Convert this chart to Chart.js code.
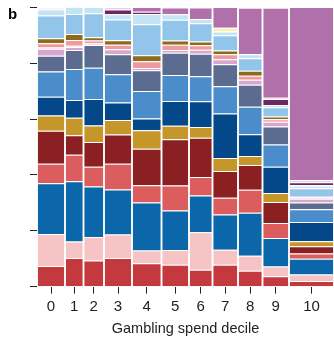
<!DOCTYPE html>
<html>
<head>
<meta charset="utf-8">
<script src="https://cdn.jsdelivr.net/npm/chart.js@4/dist/chart.umd.min.js"></script>
<style>
  html, body { margin: 0; padding: 0; background: #fff; }
  #wrap { position: relative; width: 334px; height: 338px; }
  #panel {
    position: absolute; left: 8px; top: 6px;
    font: bold 15px/1 "Liberation Sans", Arial, sans-serif; color: #000;
  }
</style>
</head>
<body>
<div id="wrap">
  <canvas id="chart" width="334" height="338"></canvas>
  <div id="panel">b</div>
</div>
<script>
// deciles and their relative bar widths (marimekko)
var deciles = ['0', '1', '2', '3', '4', '5', '6', '7', '8', '9', '10'];
var decileWidths = [28, 18.5, 20.5, 28, 29.5, 27.5, 23.5, 25.5, 24.5, 26.5, 45];

// spend shares per category, bottom to top (%)
var red          = [7.4, 10.3, 9.4, 10.3, 8.4, 7.9, 6.1, 7.9, 5.7, 3.7, 2.0];
var lightPink    = [11.5, 5.9, 8.4, 8.4, 4.6, 5.2, 13.4, 5.3, 5.4, 3.5, 2.4];
var blue         = [18.1, 21.5, 18.1, 16.1, 17.1, 14.2, 13.1, 12.6, 15.4, 10.2, 5.6];
var salmon       = [7.0, 9.5, 7.0, 9.2, 6.2, 8.9, 6.7, 6.0, 8.2, 5.4, 1.9];
var darkRed      = [11.8, 7.0, 8.9, 10.5, 13.1, 16.6, 14.0, 9.6, 8.9, 7.5, 2.6];
var gold         = [5.5, 6.3, 5.9, 5.2, 6.6, 4.8, 3.9, 4.7, 3.2, 3.2, 1.8];
var navy         = [6.7, 6.3, 9.5, 6.2, 4.2, 8.9, 9.2, 15.9, 7.8, 9.4, 6.9];
var medBlue      = [9.0, 11.1, 11.2, 10.1, 9.8, 9.3, 8.9, 9.7, 9.8, 8.0, 4.5];
var slate        = [5.7, 6.8, 8.1, 7.2, 7.5, 7.9, 8.1, 7.9, 7.9, 6.4, 2.4];
var lilac        = [2.5, 1.1, 0.3, 1.8, 0.8, 1.0, 1.4, 1.8, 1.8, 1.7, 1.4];
var palePink     = [0.4, 0.4, 0.3, 0, 0, 0, 0, 0, 0, 0, 0.5];
var salmonPink   = [1.5, 2.1, 1.0, 1.6, 2.4, 1.9, 1.6, 1.8, 1.4, 0.9, 0];
var brown        = [1.8, 2.1, 1.2, 1.6, 2.1, 1.5, 1.4, 1.3, 1.8, 1.0, 0.2];
var lightBlue    = [8.2, 7.2, 8.6, 7.4, 11.1, 7.4, 6.5, 5.5, 4.5, 3.3, 3.0];
var lightCyan    = [2.1, 2.6, 2.2, 1.9, 3.7, 2.0, 1.5, 1.3, 1.4, 0.8, 0.9];
var paleYellow   = [0, 0, 0, 0, 0, 0, 0, 1.4, 0, 0, 0.3];
var darkPurple   = [0, 0, 0, 1.7, 0.8, 0, 0, 0, 0, 2.2, 1.0];
var paleLavender = [0.6, 0, 0, 0.9, 0, 0, 0, 0, 0, 0.4, 0.8];
var mauve        = [0, 0, 0, 0, 1.7, 2.4, 4.1, 7.4, 16.6, 32.2, 61.9];

var yTicks = [0, 20, 40, 60, 80, 100];

var series = [
  { name: 'red', values: red, color: '#c4393d' },
  { name: 'lightPink', values: lightPink, color: '#f6c4c4' },
  { name: 'blue', values: blue, color: '#0b66aa' },
  { name: 'salmon', values: salmon, color: '#db5d5d' },
  { name: 'darkRed', values: darkRed, color: '#8b2023' },
  { name: 'gold', values: gold, color: '#c5962a' },
  { name: 'navy', values: navy, color: '#05488a' },
  { name: 'medBlue', values: medBlue, color: '#4b8dca' },
  { name: 'slate', values: slate, color: '#5c6c91' },
  { name: 'lilac', values: lilac, color: '#d9a6cf' },
  { name: 'palePink', values: palePink, color: '#f3d6e2' },
  { name: 'salmonPink', values: salmonPink, color: '#ef9a9e' },
  { name: 'brown', values: brown, color: '#8d6b1d' },
  { name: 'lightBlue', values: lightBlue, color: '#93c4e9' },
  { name: 'lightCyan', values: lightCyan, color: '#c4e4f4' },
  { name: 'paleYellow', values: paleYellow, color: '#fcefb4' },
  { name: 'darkPurple', values: darkPurple, color: '#6e2565' },
  { name: 'paleLavender', values: paleLavender, color: '#e8cfe5' },
  { name: 'mauve', values: mauve, color: '#b070aa' }
];

// bar edges and centres on the x value axis
var edges = [0];
decileWidths.forEach(function (w, i) { edges.push(edges[i] + w); });
var centres = deciles.map(function (d, i) { return (edges[i] + edges[i + 1]) / 2; });

var barGap = 1.5;

// bar widths follow the decile widths on the linear x scale
var mekkoWidths = {
  id: 'mekkoWidths',
  afterDatasetsUpdate: function (chart) {
    var xs = chart.scales.x;
    chart.data.datasets.forEach(function (ds, di) {
      chart.getDatasetMeta(di).data.forEach(function (bar, i) {
        var left = xs.getPixelForValue(edges[i]);
        var right = xs.getPixelForValue(edges[i + 1]);
        bar.x = (left + right) / 2;
        bar.width = right - left - barGap;
      });
    });
  }
};

var font = '"Liberation Sans", Arial, sans-serif';

new Chart(document.getElementById('chart'), {
  type: 'bar',
  data: {
    datasets: series.map(function (ser) {
      return {
        label: ser.name,
        data: deciles.map(function (d, i) {
          return { x: centres[i], y: ser.values[i] };
        }),
        backgroundColor: ser.color,
        borderColor: 'rgba(255, 255, 255, 0.75)',
        borderWidth: { top: 1, bottom: 0, left: 0, right: 0 },
        borderSkipped: false
      };
    })
  },
  options: {
    responsive: false,
    animation: false,
    layout: { padding: { left: 30, top: 7.3, right: 0, bottom: 0 } },
    plugins: {
      legend: { display: false },
      tooltip: { enabled: false }
    },
    scales: {
      x: {
        type: 'linear',
        stacked: true,
        min: 0,
        max: edges[edges.length - 1],
        offset: false,
        afterBuildTicks: function (scale) {
          scale.ticks = centres.map(function (v) { return { value: v }; });
        },
        afterFit: function (scale) { scale.height = 51.3; },
        ticks: {
          autoSkip: false,
          maxRotation: 0,
          padding: 6,
          color: '#222',
          font: { family: font, size: 15, lineHeight: 1 },
          callback: function (value, index) { return deciles[index]; }
        },
        grid: { offset: false, drawOnChartArea: false, tickLength: 7, color: '#222' },
        border: { display: false },
        title: {
          display: true,
          text: 'Gambling spend decile',
          color: '#222',
          font: { family: font, size: 14.5 },
          padding: { top: 2, bottom: 0 }
        }
      },
      y: {
        stacked: true,
        min: 0,
        max: 100,
        afterBuildTicks: function (scale) {
          scale.ticks = yTicks.map(function (v) { return { value: v }; });
        },
        afterFit: function (scale) { scale.width = 7; },
        ticks: { display: false },
        grid: { drawOnChartArea: false, tickLength: 7, color: '#222' },
        border: { display: false }
      }
    }
  },
  plugins: [mekkoWidths]
});
</script>
</body>
</html>
